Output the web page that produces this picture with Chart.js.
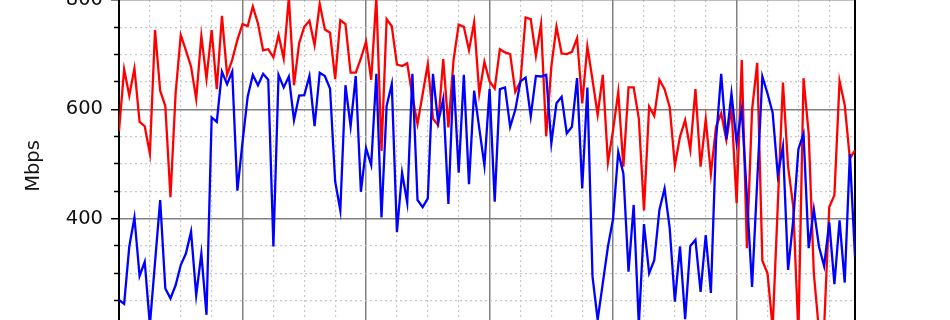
<!DOCTYPE html>
<html>
<head>
<meta charset="utf-8">
<script src="https://cdn.jsdelivr.net/npm/chart.js@4"></script>
<style>
  html, body { margin: 0; padding: 0; background: #fff; overflow: hidden; }
  #wrap { position: absolute; left: 0; top: -50px; width: 950px; height: 412px; }
</style>
</head>
<body>
<div id="wrap"><canvas id="speedChart"></canvas></div>
<script>
// hourly samples, 6 days
const hours = Array.from({ length: 144 }, (_, i) => i);

// red series (Mbps)
const redSeries = [
  560, 673, 625, 675, 577, 569, 519, 745, 634, 606,
  439, 629, 736, 708, 678, 619, 734, 656, 745, 637,
  771, 663, 691, 727, 756, 752, 788, 757, 708, 710,
  695, 736, 693, 805, 644, 721, 751, 762, 717, 793,
  746, 740, 655, 763, 756, 667, 667, 693, 724, 654,
  805, 524, 765, 752, 682, 679, 684, 624, 573, 628,
  683, 583, 571, 692, 567, 690, 755, 751, 708, 759,
  629, 687, 651, 638, 710, 704, 701, 632, 651, 768,
  765, 698, 756, 551, 678, 751, 702, 701, 705, 730,
  611, 715, 654, 590, 663, 503, 562, 632, 495, 640,
  640, 583, 415, 605, 588, 654, 637, 604, 497, 550,
  580, 526, 637, 495, 582, 482, 568, 593, 544, 602,
  428, 690, 346, 599, 685, 323, 300, 200, 425, 649,
  495, 422, 190, 657, 556, 300, 195, 200, 421, 443,
  652, 608, 510, 525
];

// blue series (Mbps)
const blueSeries = [
  251, 244, 349, 402, 295, 321, 205, 320, 434, 272,
  254, 278, 315, 336, 376, 260, 336, 224, 585, 577,
  669, 646, 669, 451, 540, 623, 663, 644, 665, 654,
  349, 663, 640, 660, 580, 625, 626, 661, 569, 667,
  661, 638, 468, 415, 644, 569, 661, 449, 529, 498,
  665, 402, 606, 646, 375, 484, 429, 665, 434, 421,
  437, 665, 576, 619, 427, 663, 484, 663, 463, 634,
  565, 497, 637, 431, 637, 640, 568, 599, 651, 658,
  587, 661, 660, 663, 538, 611, 623, 556, 568, 657,
  455, 640, 294, 215, 282, 349, 400, 522, 482, 303,
  425, 205, 390, 300, 324, 416, 455, 382, 248, 349,
  216, 350, 361, 266, 370, 264, 544, 665, 545, 629,
  539, 600, 440, 275, 468, 660, 629, 594, 480, 532,
  306, 397, 527, 555, 346, 417, 349, 313, 393, 280,
  397, 283, 518, 330
];

// labelled (major) y ticks; 200 is below the visible window
const yMajorTicks = [200, 400, 600, 800];
const yTickLabels = [400, 600, 800];

const FONT = { family: 'DejaVu Sans', size: 19.5 };
const MAJOR = '#808080';
const MINOR = '#c8c8c8';

const isMajorY = t => t && yMajorTicks.includes(t.value);
const isMajorX = t => t && t.value % 24 === 0;

const ctx = document.getElementById('speedChart').getContext('2d');

new Chart(ctx, {
  type: 'line',
  data: {
    labels: hours,
    datasets: [
      {
        label: 'blue',
        data: blueSeries,
        borderColor: '#0000ff',
        borderWidth: 2.3,
        pointRadius: 0,
        tension: 0,
        fill: false
      },
      {
        label: 'red',
        data: redSeries,
        borderColor: '#ff0000',
        borderWidth: 2.3,
        pointRadius: 0,
        tension: 0,
        fill: false
      }
    ]
  },
  options: {
    responsive: true,
    maintainAspectRatio: false,
    animation: false,
    devicePixelRatio: 1,
    // chart area: 119..855 wide, 800 sits at the top of the window
    layout: { padding: { top: 50, right: 95, left: 0, bottom: 30 } },
    plugins: {
      legend: { display: false },
      tooltip: { enabled: false }
    },
    scales: {
      x: {
        type: 'linear',
        min: 0,
        max: 143,
        afterBuildTicks: scale => {
          const t = [];
          for (let v = 6; v <= 138; v += 6) t.push({ value: v });
          scale.ticks = t;
        },
        afterFit: scale => { scale.height = 0; },
        ticks: { display: false },
        grid: {
          drawTicks: false,
          color: c => isMajorX(c.tick) ? MAJOR : MINOR,
          lineWidth: c => isMajorX(c.tick) ? 1.5 : 1.2
        },
        border: {
          display: false,
          dash: c => (c.tick && !isMajorX(c.tick)) ? [2, 3] : []
        }
      },
      y: {
        min: 192.5,
        max: 800,
        afterBuildTicks: scale => {
          const t = [];
          for (let v = 200; v <= 800; v += 50) t.push({ value: v });
          scale.ticks = t;
        },
        afterFit: scale => { scale.width = 119; },
        ticks: {
          padding: 8,
          color: '#111',
          font: FONT,
          callback: v => yTickLabels.includes(v) ? String(v) : ''
        },
        title: {
          display: true,
          text: 'Mbps',
          color: '#111',
          font: FONT,
          padding: { top: 22, bottom: 0 }
        },
        grid: {
          drawTicks: true,
          tickLength: 8,
          tickColor: '#000',
          tickWidth: 1.5,
          tickBorderDash: c => isMajorY(c.tick) ? [] : [0, 3, 5, 100],
          color: c => isMajorY(c.tick) ? MAJOR : MINOR,
          lineWidth: c => isMajorY(c.tick) ? 1.5 : 1.2
        },
        border: {
          display: true,
          color: '#000',
          width: 2,
          dash: c => (c.tick && !isMajorY(c.tick)) ? [2, 3] : []
        }
      },
      yRight: {
        position: 'right',
        display: true,
        afterFit: scale => { scale.width = 0; },
        ticks: { display: false },
        grid: { drawOnChartArea: false, drawTicks: false },
        border: { display: true, color: '#000', width: 2 }
      }
    }
  }
});
</script>
</body>
</html>
